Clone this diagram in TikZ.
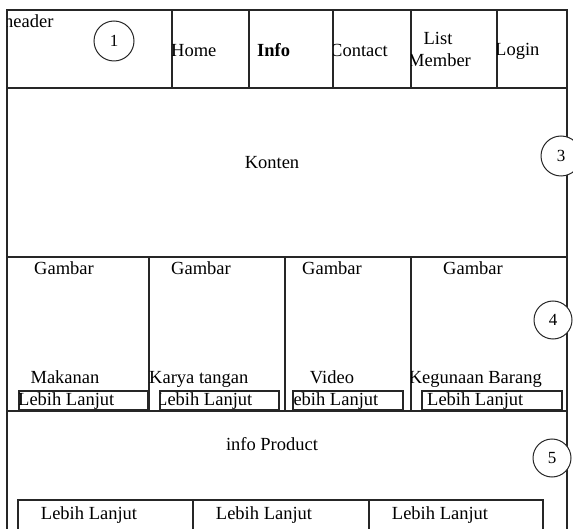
\documentclass[tikz,border=0pt]{standalone}
\usepackage{fontspec}
\setmainfont{Liberation Serif}
\begin{document}
\begin{tikzpicture}[x=1pt,y=-1pt,
  frame/.style={line width=1.2pt,draw=black!85},
  txt/.style={inner sep=0pt,font=\fontsize{18.5}{20}\selectfont},
  num/.style={circle,draw=black!85,line width=1pt,fill=white,minimum size=40pt,inner sep=0pt,font=\fontsize{17}{19}\selectfont},
  smallbox/.style={line width=1.2pt,draw=black!85}]
\useasboundingbox (0,0) rectangle (573,529);
% outer frame and grid
\draw[frame] (7,529) -- (7,10) -- (567,10) -- (567,529);
\draw[frame] (7,88) -- (567,88);
\draw[frame] (7,257) -- (567,257);
\draw[frame] (7,411) -- (567,411);
\foreach \x in {172,249,333,411,497} \draw[frame] (\x,10) -- (\x,88);
\foreach \x in {149,285,411} \draw[frame] (\x,257) -- (\x,411);
% header texts
\begin{scope}\clip (7,10) rectangle (172,88);
 \node[txt,anchor=base west] (hdr) at (4,28) {header};\end{scope}
\begin{scope}\clip (172,10) rectangle (249,88);
 \node[txt,anchor=base west] (home) at (171,57) {Home};\end{scope}
\node[txt,anchor=base west,font=\fontsize{18.5}{20}\selectfont\bfseries] (info) at (257,57) {Info};
\begin{scope}\clip (333,10) rectangle (411,88);
 \node[txt,anchor=base west] (contact) at (330,57) {Contact};\end{scope}
\node[txt,anchor=base] (list) at (438,45) {List};
\begin{scope}\clip (411,10) rectangle (497,88);
 \node[txt,anchor=base west] (member) at (408,67) {Member};\end{scope}
\begin{scope}\clip (497,10) rectangle (567,88);
 \node[txt,anchor=base west] (login) at (495,56) {Login};\end{scope}
% content
\node[txt,anchor=base] (konten) at (272,169) {Konten};
% gambar row
\node[txt,anchor=base] (g1) at (64,275) {Gambar};
\node[txt,anchor=base] (g2) at (201,275) {Gambar};
\node[txt,anchor=base] (g3) at (332,275) {Gambar};
\node[txt,anchor=base] (g4) at (473,275) {Gambar};
\node[txt,anchor=base] (n1) at (65,383) {Makanan};
\begin{scope}\clip (149,257) rectangle (285,411);
 \node[txt,anchor=base west] (n2) at (149,383) {Karya tangan};\end{scope}
\node[txt,anchor=base] (n3) at (332,383) {Video};
\begin{scope}\clip (411,257) rectangle (567,411);
 \node[txt,anchor=base east] (n4) at (542,383) {Kegunaan Barang};\end{scope}
% small boxes
\draw[smallbox] (19,391) rectangle (148,410);
\draw[smallbox] (160,391) rectangle (279,410);
\draw[smallbox] (293,391) rectangle (403,410);
\draw[smallbox] (422,391) rectangle (562,410);
\begin{scope}\clip (19,391) rectangle (148,410);
 \node[txt,anchor=base west] (b1) at (18,405) {Lebih Lanjut};\end{scope}
\begin{scope}\clip (160,391) rectangle (279,410);
 \node[txt,anchor=base west] (b2) at (156,405) {Lebih Lanjut};\end{scope}
\begin{scope}\clip (293,391) rectangle (403,410);
 \node[txt,anchor=base west] (b3) at (282,405) {Lebih Lanjut};\end{scope}
\node[txt,anchor=base west] (b4) at (427,405) {Lebih Lanjut};
% info product
\node[txt,anchor=base] (prod) at (272,450) {info Product};
\draw[smallbox] (18,500) rectangle (543,540);
\draw[smallbox] (193,500) -- (193,529);
\draw[smallbox] (369,500) -- (369,529);
\node[txt,anchor=base] (c1) at (89,519) {Lebih Lanjut};
\node[txt,anchor=base] (c2) at (264,519) {Lebih Lanjut};
\node[txt,anchor=base] (c3) at (440,519) {Lebih Lanjut};
% numbered circles
\node[num] (k1) at (114,41) {1};
\node[num] (k3) at (561,156) {3};
\node[num,minimum size=38pt] (k4) at (553,320) {4};
\node[num,minimum size=38pt] (k5) at (552,458) {5};
\end{tikzpicture}
\end{document}
